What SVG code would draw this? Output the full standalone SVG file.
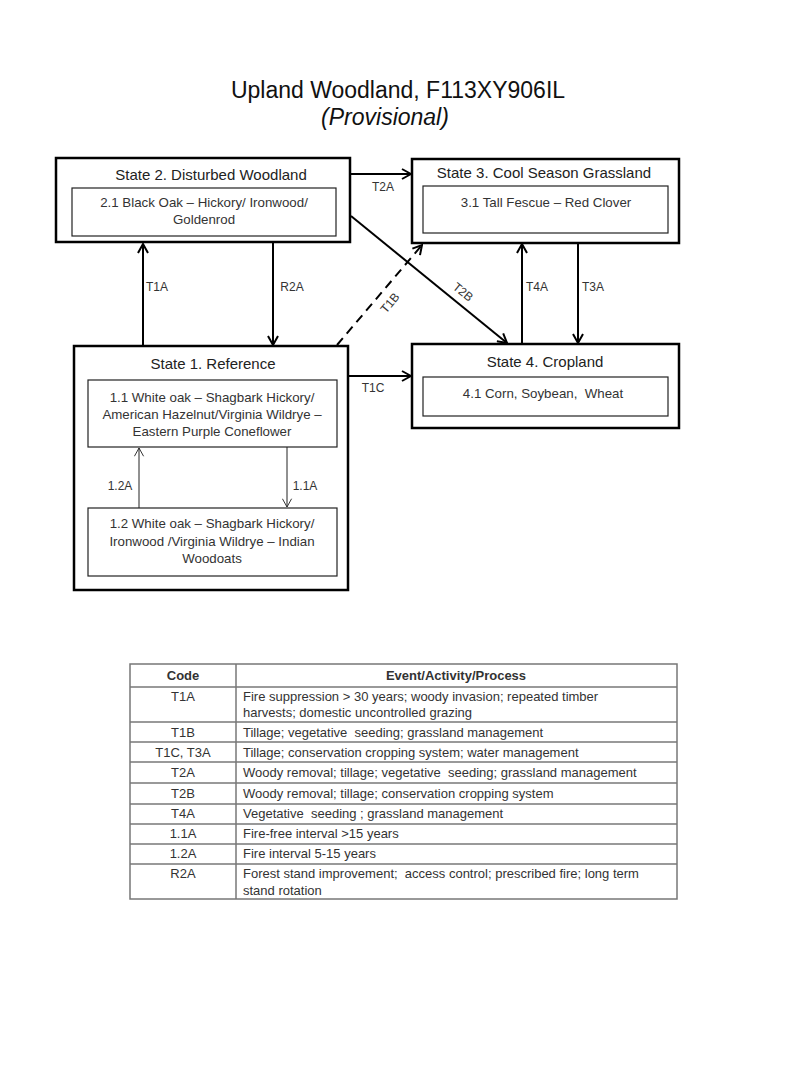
<svg xmlns="http://www.w3.org/2000/svg" width="800" height="1067" viewBox="0 0 800 1067">
<defs>
<style>
text{font-family:"Liberation Sans",Arial,sans-serif;fill:#222;white-space:pre}
.title{font-size:23px;text-anchor:middle;fill:#111}
.st{font-size:15px;text-anchor:middle;fill:#222}
.in{font-size:13.3px;text-anchor:middle;fill:#333}
.lb{font-size:12px;text-anchor:middle;fill:#333}
.tb{font-size:13px;fill:#333}
.tc{font-size:13px;fill:#333;text-anchor:middle}
.outer{fill:#fff;stroke:#000;stroke-width:2.5}
.inner{fill:#fff;stroke:#222;stroke-width:1.2}
.c{stroke:#000;stroke-width:2;fill:none;marker-end:url(#a)}
.ct{stroke:#222;stroke-width:1;fill:none;marker-end:url(#at)}
.tl{stroke:#777;stroke-width:1.5;fill:none}
</style>
<marker id="a" viewBox="0 0 12 12" refX="11" refY="6" markerWidth="12" markerHeight="12" markerUnits="userSpaceOnUse" orient="auto"><path d="M2,1 L11,6 L2,11" fill="none" stroke="#000" stroke-width="2"/></marker>
<marker id="at" viewBox="0 0 12 12" refX="11" refY="6" markerWidth="11" markerHeight="11" markerUnits="userSpaceOnUse" orient="auto"><path d="M2,1 L11,6 L2,11" fill="none" stroke="#222" stroke-width="1"/></marker>
</defs>
<rect width="800" height="1067" fill="#fff"/>
<text class="title" x="398" y="98">Upland Woodland, F113XY906IL</text>
<text class="title" x="385" y="125" font-style="italic" font-size="22">(Provisional)</text>

<g id="state2">
<rect class="outer" x="56" y="158" width="294" height="84"/>
<text class="st" x="211" y="180">State 2. Disturbed Woodland</text>
<rect class="inner" x="72" y="188" width="264" height="48"/>
<text class="in" x="204" y="207">2.1 Black Oak – Hickory/ Ironwood/</text>
<text class="in" x="204" y="224">Goldenrod</text>
</g>

<g id="state3">
<rect class="outer" x="412" y="159" width="267" height="84"/>
<text class="st" x="544" y="178">State 3. Cool Season Grassland</text>
<rect class="inner" x="423" y="186" width="245" height="47"/>
<text class="in" x="546" y="207">3.1 Tall Fescue – Red Clover</text>
</g>

<g id="state4">
<rect class="outer" x="412" y="344" width="267" height="84"/>
<text class="st" x="545" y="367">State 4. Cropland</text>
<rect class="inner" x="423" y="377" width="245" height="39"/>
<text class="in" x="543" y="398">4.1 Corn, Soybean,  Wheat</text>
</g>

<g id="state1">
<rect class="outer" x="74" y="346" width="274" height="244"/>
<text class="st" x="213" y="369">State 1. Reference</text>
<g id="p11">
<rect class="inner" x="88" y="380" width="249" height="67"/>
<text class="in" x="212" y="402">1.1 White oak – Shagbark Hickory/</text>
<text class="in" x="212" y="419">American Hazelnut/Virginia Wildrye –</text>
<text class="in" x="212" y="436">Eastern Purple Coneflower</text>
</g>
<g id="p12">
<rect class="inner" x="88" y="508" width="249" height="68"/>
<text class="in" x="212" y="528">1.2 White oak – Shagbark Hickory/</text>
<text class="in" x="212" y="546">Ironwood /Virginia Wildrye – Indian</text>
<text class="in" x="212" y="563">Woodoats</text>
</g>
</g>

<g id="connectors">
<line class="c" x1="143" y1="346" x2="143" y2="244"/>
<line class="c" x1="273" y1="243" x2="273" y2="345"/>
<line class="c" x1="350" y1="174" x2="411" y2="174"/>
<line class="c" x1="348" y1="376" x2="411" y2="376"/>
<line class="c" x1="522" y1="344" x2="522" y2="244"/>
<line class="c" x1="578" y1="243" x2="578" y2="343"/>
<line class="c" x1="351" y1="216" x2="507" y2="343"/>
<line class="c" x1="337" y1="345" x2="422" y2="245" stroke-dasharray="9,6"/>
<line class="ct" x1="139" y1="508" x2="139" y2="448"/>
<line class="ct" x1="287" y1="447" x2="287" y2="507"/>
<text class="lb" x="157" y="291">T1A</text>
<text class="lb" x="292" y="291">R2A</text>
<text class="lb" x="383" y="191">T2A</text>
<text class="lb" x="373" y="392">T1C</text>
<text class="lb" x="537" y="291">T4A</text>
<text class="lb" x="593" y="291">T3A</text>
<text class="lb" x="463" y="296" transform="rotate(39 463 292)">T2B</text>
<text class="lb" x="390" y="307" transform="rotate(-50 390 303)">T1B</text>
<text class="lb" x="120" y="490">1.2A</text>
<text class="lb" x="305" y="490">1.1A</text>
</g>

<g id="table">
<rect class="tl" x="130" y="664" width="547" height="235"/>
<line class="tl" x1="236" y1="664" x2="236" y2="899"/>
<line class="tl" x1="130" y1="687" x2="677" y2="687"/>
<line class="tl" x1="130" y1="722" x2="677" y2="722"/>
<line class="tl" x1="130" y1="742" x2="677" y2="742"/>
<line class="tl" x1="130" y1="762" x2="677" y2="762"/>
<line class="tl" x1="130" y1="783" x2="677" y2="783"/>
<line class="tl" x1="130" y1="804" x2="677" y2="804"/>
<line class="tl" x1="130" y1="824" x2="677" y2="824"/>
<line class="tl" x1="130" y1="844" x2="677" y2="844"/>
<line class="tl" x1="130" y1="864" x2="677" y2="864"/>
<text class="tc" x="183" y="680" font-weight="bold">Code</text>
<text class="tc" x="456" y="680" font-weight="bold">Event/Activity/Process</text>
<text class="tc" x="183" y="701">T1A</text>
<text class="tb" x="243" y="701">Fire suppression &gt; 30 years; woody invasion; repeated timber</text>
<text class="tb" x="243" y="717">harvests; domestic uncontrolled grazing</text>
<text class="tc" x="183" y="737">T1B</text>
<text class="tb" x="243" y="737">Tillage; vegetative  seeding; grassland management</text>
<text class="tc" x="183" y="757">T1C, T3A</text>
<text class="tb" x="243" y="757">Tillage; conservation cropping system; water management</text>
<text class="tc" x="183" y="777">T2A</text>
<text class="tb" x="243" y="777">Woody removal; tillage; vegetative  seeding; grassland management</text>
<text class="tc" x="183" y="798">T2B</text>
<text class="tb" x="243" y="798">Woody removal; tillage; conservation cropping system</text>
<text class="tc" x="183" y="818">T4A</text>
<text class="tb" x="243" y="818">Vegetative  seeding ; grassland management</text>
<text class="tc" x="183" y="838">1.1A</text>
<text class="tb" x="243" y="838">Fire-free interval &gt;15 years</text>
<text class="tc" x="183" y="858">1.2A</text>
<text class="tb" x="243" y="858">Fire interval 5-15 years</text>
<text class="tc" x="183" y="878">R2A</text>
<text class="tb" x="243" y="878">Forest stand improvement;  access control; prescribed fire; long term</text>
<text class="tb" x="243" y="895">stand rotation</text>
</g>
</svg>
